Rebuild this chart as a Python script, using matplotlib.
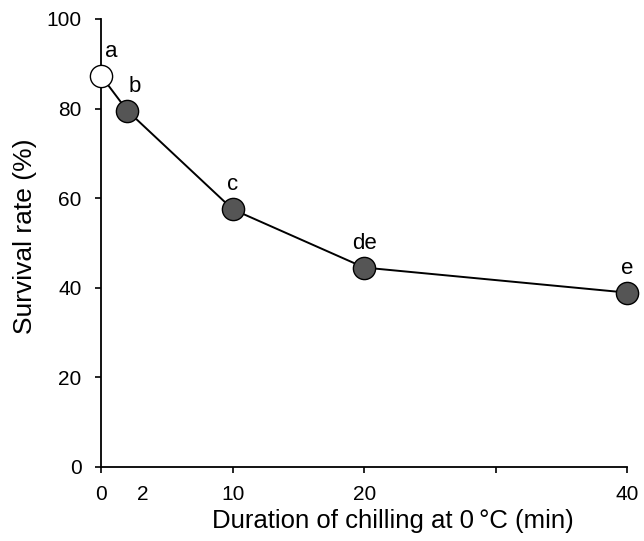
import matplotlib
matplotlib.use("Agg")
import matplotlib.pyplot as plt
import matplotlib.transforms as mtransforms

plt.rcParams['font.family'] = ['Liberation Sans', 'DejaVu Sans']

duration = [0, 2, 10, 20, 40]
survival = [87.3, 79.5, 57.5, 44.5, 38.9]
letters = ['a', 'b', 'c', 'de', 'e']
open_marker = [True, False, False, False, False]

fig = plt.figure(figsize=(6.44, 5.41), dpi=100)
ax = fig.add_axes([0.157, 0.137, 0.817, 0.828])

ax.plot(duration, survival, color='black', lw=1.4, zorder=2, clip_on=False)
label_dx = {'a': 7, 'b': 5}
for x, y, op, lab in zip(duration, survival, open_marker, letters):
    ax.plot([x], [y], marker='o', ms=16, mec='black', mew=1.0,
            mfc='white' if op else '#555555', zorder=3, clip_on=False)
    ax.annotate(lab, (x, y), xytext=(label_dx.get(lab, 0), 10),
                textcoords='offset points', ha='center', va='bottom', fontsize=16)

ax.set_xlim(0, 40)
ax.set_ylim(0, 100)
ax.spines['top'].set_visible(False)
ax.spines['right'].set_visible(False)
ax.spines['left'].set_linewidth(1.3)
ax.spines['bottom'].set_linewidth(1.3)

ax.set_xticks([0, 10, 20, 30, 40], labels=['0', '10', '20', '', '40'])
ax.set_xticks([2], labels=['2'], minor=True)
ax.tick_params(axis='x', which='minor', length=4, width=0, pad=9, labelsize=15)
ax.tick_params(axis='x', which='major', length=4, width=1.2, pad=9, labelsize=15)
offset = mtransforms.ScaledTranslation(15 / 100, 0, fig.dpi_scale_trans)
for lbl in ax.xaxis.get_minorticklabels():
    lbl.set_transform(lbl.get_transform() + offset)

ax.set_yticks([0, 20, 40, 60, 80, 100])
ax.tick_params(axis='y', length=4, width=1.2, pad=10, labelsize=15)

ax.set_xlabel('Duration of chilling at 0\u2009\u00b0C (min)', fontsize=18.5)
ax.xaxis.set_label_coords(0.555, -0.093)
ax.set_ylabel('Survival rate (%)', fontsize=19)
ax.yaxis.set_label_coords(-0.122, 0.515)

fig.savefig('out.png', dpi=100)
